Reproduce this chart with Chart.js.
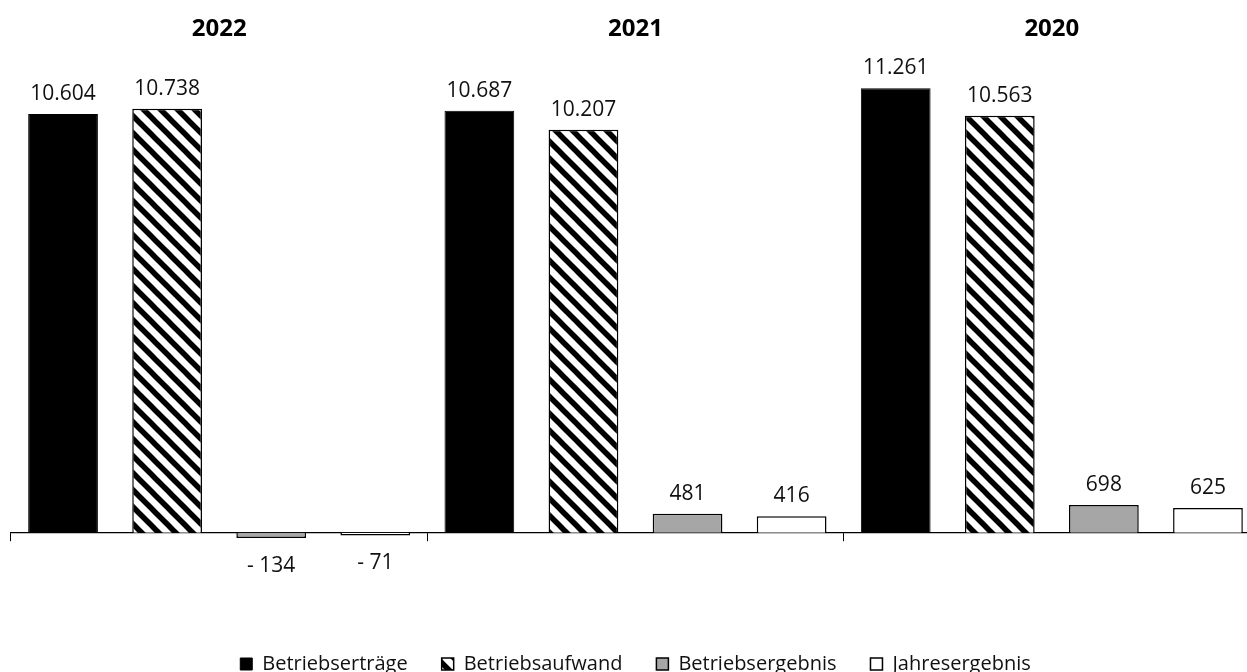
<!DOCTYPE html>
<html>
<head>
<meta charset="utf-8">
<script src="https://cdn.jsdelivr.net/npm/chart.js@4/dist/chart.umd.min.js"></script>
<style>
  html, body { margin: 0; padding: 0; background: #fff; overflow: hidden; }
  #wrap { width: 1260px; height: 684px; }
</style>
</head>
<body>
<div id="wrap"><canvas id="finChart" width="1260" height="684"></canvas></div>
<script>
// values in TEUR
var categories = ["2022", "2021", "2020"];
var betriebsertraege = [10604, 10687, 11261];
var betriebsaufwand = [10738, 10207, 10563];
var betriebsergebnis = [-134, 481, 698];
var jahresergebnis = [-71, 416, 625];

// diagonal stripes for Betriebsaufwand
function makeHatch() {
    var n = 17;
    var tile = document.createElement("canvas");
    tile.width = n;
    tile.height = n;
    var c = tile.getContext("2d");
    c.fillStyle = "#fff";
    c.fillRect(0, 0, n, n);
    c.strokeStyle = "#000";
    c.lineWidth = 5.5;
    [-n, 0, n].forEach(function (o) {
        c.beginPath();
        c.moveTo(o - 4, -4);
        c.lineTo(o + n + 4, n + 4);
        c.stroke();
    });
    return c.createPattern(tile, "repeat");
}

function fmt(v) {
    var s = Math.abs(v).toLocaleString("de-DE");
    return v < 0 ? "- " + s : s;
}

// value labels above / below each bar
var valueLabels = {
    id: "valueLabels",
    afterDatasetsDraw: function (chart) {
        var ctx = chart.ctx;
        ctx.save();
        ctx.font = "21px 'Open Sans'";
        ctx.fillStyle = "#111";
        ctx.textAlign = "center";
        ctx.textBaseline = "alphabetic";
        chart.data.datasets.forEach(function (ds, i) {
            var meta = chart.getDatasetMeta(i);
            meta.data.forEach(function (bar, j) {
                var v = ds.data[j];
                if (v >= 0) {
                    ctx.fillText(fmt(v), bar.x, bar.y - 14);
                } else {
                    ctx.fillText(fmt(v), bar.x, bar.y + 34);
                }
            });
        });
        ctx.restore();
    }
};

var ctx = document.getElementById("finChart");
var finChart = new Chart(ctx, {
    type: "bar",
    data: {
        labels: categories,
        datasets: [
            { label: "Betriebserträge", data: betriebsertraege, backgroundColor: "#000", borderColor: "#000", borderWidth: 1 },
            { label: "Betriebsaufwand", data: betriebsaufwand, backgroundColor: makeHatch(), borderColor: "#000", borderWidth: 1.5 },
            { label: "Betriebsergebnis", data: betriebsergebnis, backgroundColor: "#a6a6a6", borderColor: "#000", borderWidth: 1.5 },
            { label: "Jahresergebnis", data: jahresergebnis, backgroundColor: "#fff", borderColor: "#000", borderWidth: 1.5 }
        ]
    },
    options: {
        responsive: false,
        animation: false,
        devicePixelRatio: 1,
        layout: { padding: { left: 11, right: 0, top: 0, bottom: 0 } },
        datasets: { bar: { barPercentage: 0.67, categoryPercentage: 1.0 } },
        scales: {
            y: {
                display: false,
                min: -2213,
                max: 12030
            },
            x: {
                position: { y: 0 },
                offset: true,
                grid: {
                    offset: true,
                    drawOnChartArea: false,
                    drawTicks: true,
                    tickLength: 8,
                    color: "#000",
                    lineWidth: 1
                },
                border: { display: true, color: "#000", width: 1.2 },
                ticks: { display: false }
            },
            xTop: {
                type: "category",
                position: "top",
                labels: categories,
                offset: true,
                grid: { display: false, drawTicks: false },
                border: { display: false },
                ticks: {
                    color: "#000",
                    padding: 14.5,
                    font: { family: "'Open Sans'", size: 24, weight: "bold" }
                }
            }
        },
        plugins: {
            title: { display: false },
            tooltip: { enabled: false },
            legend: {
                display: true,
                position: "bottom",
                labels: {
                    color: "#111",
                    boxWidth: 12,
                    boxHeight: 12,
                    padding: 34,
                    font: { family: "'Open Sans'", size: 20 }
                }
            }
        }
    },
    plugins: [valueLabels]
});
</script>
</body>
</html>
